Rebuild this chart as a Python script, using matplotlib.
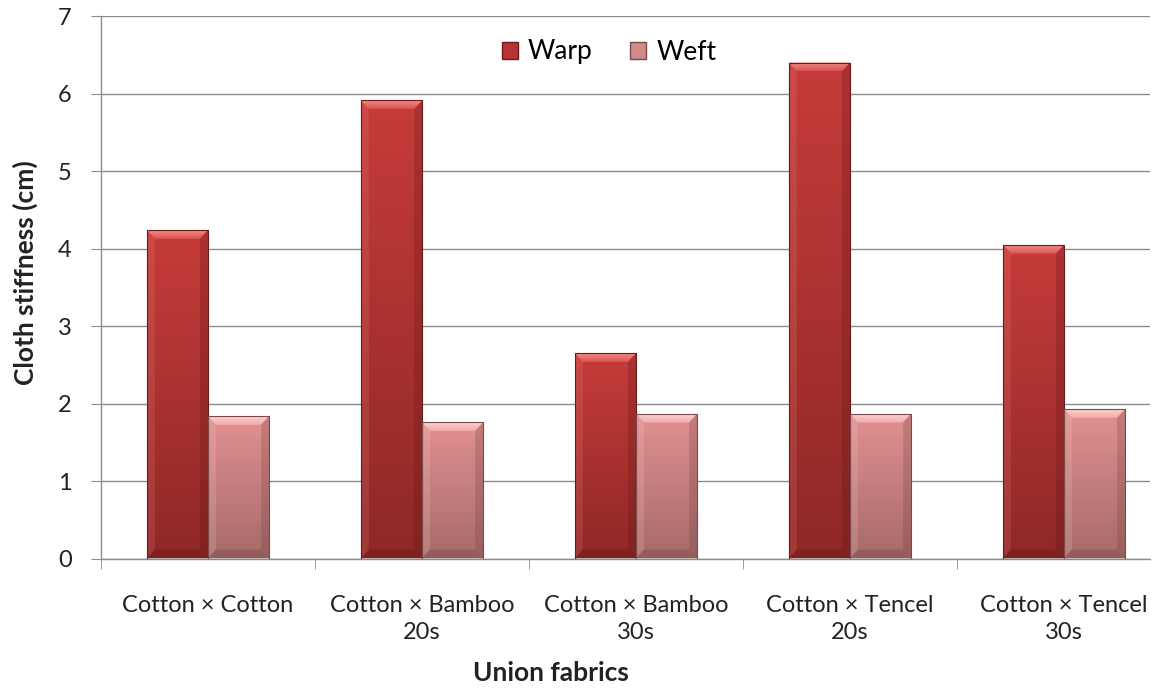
import numpy as np
import matplotlib.pyplot as plt
from matplotlib.colors import to_rgb
from matplotlib.patches import Polygon, Patch

# data
fabrics = ["Cotton × Cotton", "Cotton × Bamboo\n20s", "Cotton × Bamboo\n30s",
           "Cotton × Tencel\n20s", "Cotton × Tencel\n30s"]
warp = [4.24, 5.91, 2.65, 6.40, 4.05]
weft = [1.84, 1.76, 1.87, 1.87, 1.93]

plt.rcParams['font.family'] = ['Lato', 'DejaVu Sans']

W, H = 1155, 689
XMAX = 4.402
fig = plt.figure(figsize=(W / 100, H / 100), dpi=100)
ax = fig.add_axes([101 / W, 130.5 / H, 1049 / W, 542.5 / H])

grid_col = '#8c8c8c'
x = np.arange(len(fabrics))
w = 1 / 3.5

# pixel -> data scale, for the bevel size
px_x = (XMAX + 0.5) / 1049
px_y = 7 / 542.5


def vgrad(c1, c2, n=256):
    t = np.linspace(0, 1, n)[:, None, None]
    return np.array(to_rgb(c1))[None, None, :] * (1 - t) + np.array(to_rgb(c2))[None, None, :] * t


def bevel_bars(xs, vals, top, bottom, light, mid, dark, edge):
    bars = ax.bar(xs, vals, w, color='none', edgecolor=edge, linewidth=0.8, zorder=5)
    dx, dy = 8 * px_x, 9 * px_y
    face = vgrad(top, bottom)
    hl = vgrad(light, mid, 64)
    for bar in bars:
        x0 = bar.get_x()
        x1 = x0 + bar.get_width()
        h = bar.get_height()
        im = ax.imshow(face, extent=[x0, x1, 0, h], origin='upper', aspect='auto', zorder=2)
        im.set_clip_path(bar)
        # top bevel with a light gradient
        top_poly = Polygon([(x0, h), (x1, h), (x1 - dx, h - dy), (x0 + dx, h - dy)],
                           closed=True, facecolor='none', edgecolor='none', zorder=3)
        ax.add_patch(top_poly)
        im2 = ax.imshow(hl, extent=[x0, x1, h - dy, h], origin='upper', aspect='auto', zorder=3)
        im2.set_clip_path(top_poly)
        # side and bottom bevels
        ax.add_patch(Polygon([(x0, h), (x0 + dx, h - dy), (x0 + dx, dy), (x0, 0)],
                             closed=True, facecolor=light, alpha=0.18, edgecolor='none', zorder=3))
        ax.add_patch(Polygon([(x1, h), (x1 - dx, h - dy), (x1 - dx, dy), (x1, 0)],
                             closed=True, facecolor=dark, alpha=0.25, edgecolor='none', zorder=3))
        ax.add_patch(Polygon([(x0, 0), (x1, 0), (x1 - dx, dy), (x0 + dx, dy)],
                             closed=True, facecolor=dark, alpha=0.3, edgecolor='none', zorder=3))
    return bars


bevel_bars(x - w / 2, warp, '#c63c3a', '#8e2826', '#f28c88', '#d9534f', '#5e1414', '#6a1c1c')
bevel_bars(x + w / 2, weft, '#e39191', '#a66a6a', '#fdd2d2', '#efaaaa', '#6e3e3e', '#7a4a4a')

# axes, grid, ticks
ax.set_yticks(range(8))
ax.yaxis.grid(True, color=grid_col, linewidth=1, zorder=0)
ax.set_axisbelow(True)
for s in ['top', 'right']:
    ax.spines[s].set_visible(False)
for s in ['left', 'bottom']:
    ax.spines[s].set_color(grid_col)
    ax.spines[s].set_linewidth(1)
ax.tick_params(axis='y', length=7, color=grid_col, labelsize=17, labelcolor='#222222', pad=14)
ax.set_xticks(x)
ax.set_xticklabels(fabrics, fontsize=17, color='#222222', linespacing=1.4)
ax.tick_params(axis='x', which='major', length=0, pad=26)
ax.set_xticks(np.arange(-0.5, XMAX, 1), minor=True)
ax.tick_params(axis='x', which='minor', length=7, color=grid_col)
ax.set_xlim(-0.5, XMAX)
ax.set_ylim(0, 7)

fig.text(25 / W, 1 - 273 / H, "Cloth stiffness (cm)", rotation=90, ha='center', va='center',
         fontsize=19, fontweight='bold', color='#222222')
fig.text(551 / W, 1 - 673 / H, "Union fabrics", ha='center', va='center',
         fontsize=19, fontweight='bold', color='#222222')

handles = [Patch(facecolor='#b83432', edgecolor='#6a1c1c'),
           Patch(facecolor='#d08a8a', edgecolor='#7a4a4a')]
ax.legend(handles, ['Warp', 'Weft'], loc='center', bbox_to_anchor=(609 / W, 1 - 52 / H),
          bbox_transform=fig.transFigure, ncol=2, frameon=False, fontsize=19,
          handlelength=0.6, handleheight=0.6, handletextpad=0.4, columnspacing=1.4)

fig.savefig('out.png', dpi=100)
